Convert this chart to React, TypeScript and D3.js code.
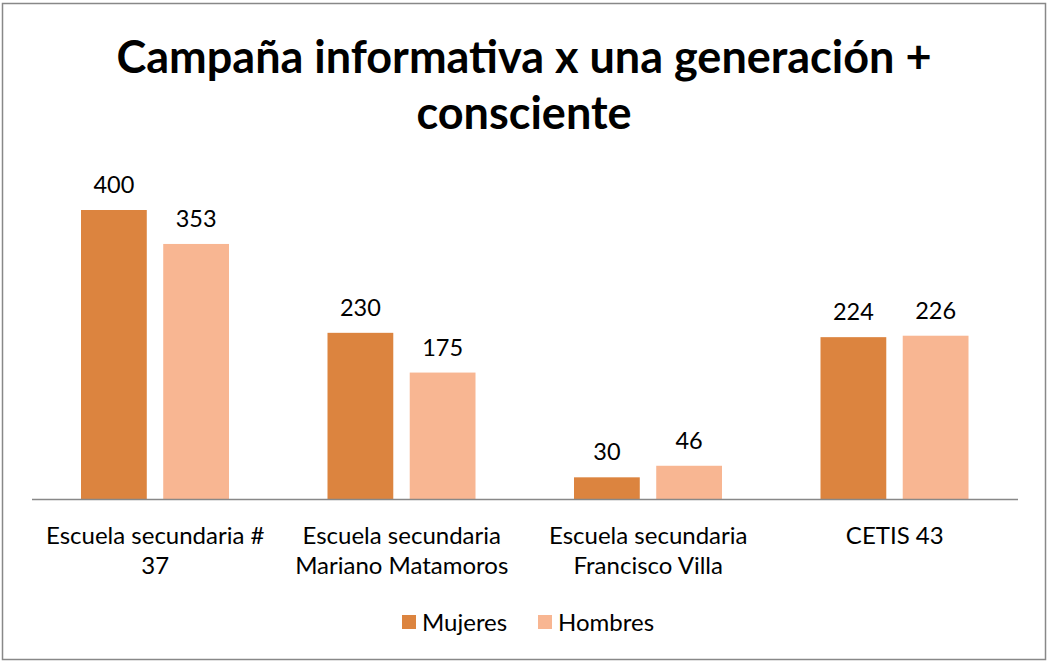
import React from "react";
import * as d3 from "d3";

const categories: string[][] = [
  ["Escuela secundaria #", "37"],
  ["Escuela secundaria", "Mariano Matamoros"],
  ["Escuela secundaria", "Francisco Villa"],
  ["CETIS 43"],
];
const mujeres = [400, 230, 30, 224];
const hombres = [353, 175, 46, 226];
const seriesNames = ["Mujeres", "Hombres"];
const colors = ["#DC843F", "#F8B692"];
const titleLines = ["Campaña informativa x una generación +", "consciente"];

const W = 1048;
const H = 663;
const FONT = "Lato, Carlito, Calibri, sans-serif";

export default function App() {
  const left = 32;
  const right = 1018;
  const baseY = 499;
  const x0 = d3.scaleBand<number>().domain(d3.range(categories.length)).range([left, right]).paddingInner(0).paddingOuter(0);
  const x1 = d3.scaleBand<number>().domain([0, 1]).range([49, 197]).paddingInner(0.2);
  const y = d3.scaleLinear().domain([0, 400]).range([baseY, 210]);
  const series = [mujeres, hombres];

  return (
    <svg width={W} height={H} style={{ position: "fixed", left: 0, top: 0 }} fontFamily={FONT}>
      <rect x={0} y={0} width={W} height={H} fill="#fff" />
      <rect x={2.5} y={3.5} width={1043} height={656} fill="#fff" stroke="#888" strokeWidth={1.5} />
      {titleLines.map((t, i) => (
        <text key={i} x={524} y={73 + i * 56} textAnchor="middle" fontSize={45} fontWeight="bold" fill="#000">
          {t}
        </text>
      ))}
      {series.map((vals, s) =>
        vals.map((v, i) => {
          const bx = (x0(i) as number) + (x1(s) as number);
          const bw = x1.bandwidth();
          return (
            <g key={`${s}-${i}`}>
              <rect x={bx} y={y(v)} width={bw} height={baseY - y(v)} fill={colors[s]} />
              <text x={bx + bw / 2} y={y(v) - 17} textAnchor="middle" fontSize={23.5} fill="#000">
                {v}
              </text>
            </g>
          );
        })
      )}
      <line x1={left} x2={right} y1={baseY + 0.5} y2={baseY + 0.5} stroke="#888" strokeWidth={1.5} />
      {categories.map((lines, i) => (
        <text key={i} textAnchor="middle" fontSize={24} fill="#000">
          {lines.map((l, j) => (
            <tspan key={j} x={(x0(i) as number) + x0.bandwidth() / 2} y={544 + j * 30}>
              {l}
            </tspan>
          ))}
        </text>
      ))}
      {seriesNames.map((n, s) => {
        const lx = [402, 538][s];
        return (
          <g key={n}>
            <rect x={lx} y={615} width={14} height={14} fill={colors[s]} />
            <text x={lx + 20} y={631} fontSize={24} fill="#000">
              {n}
            </text>
          </g>
        );
      })}
    </svg>
  );
}
